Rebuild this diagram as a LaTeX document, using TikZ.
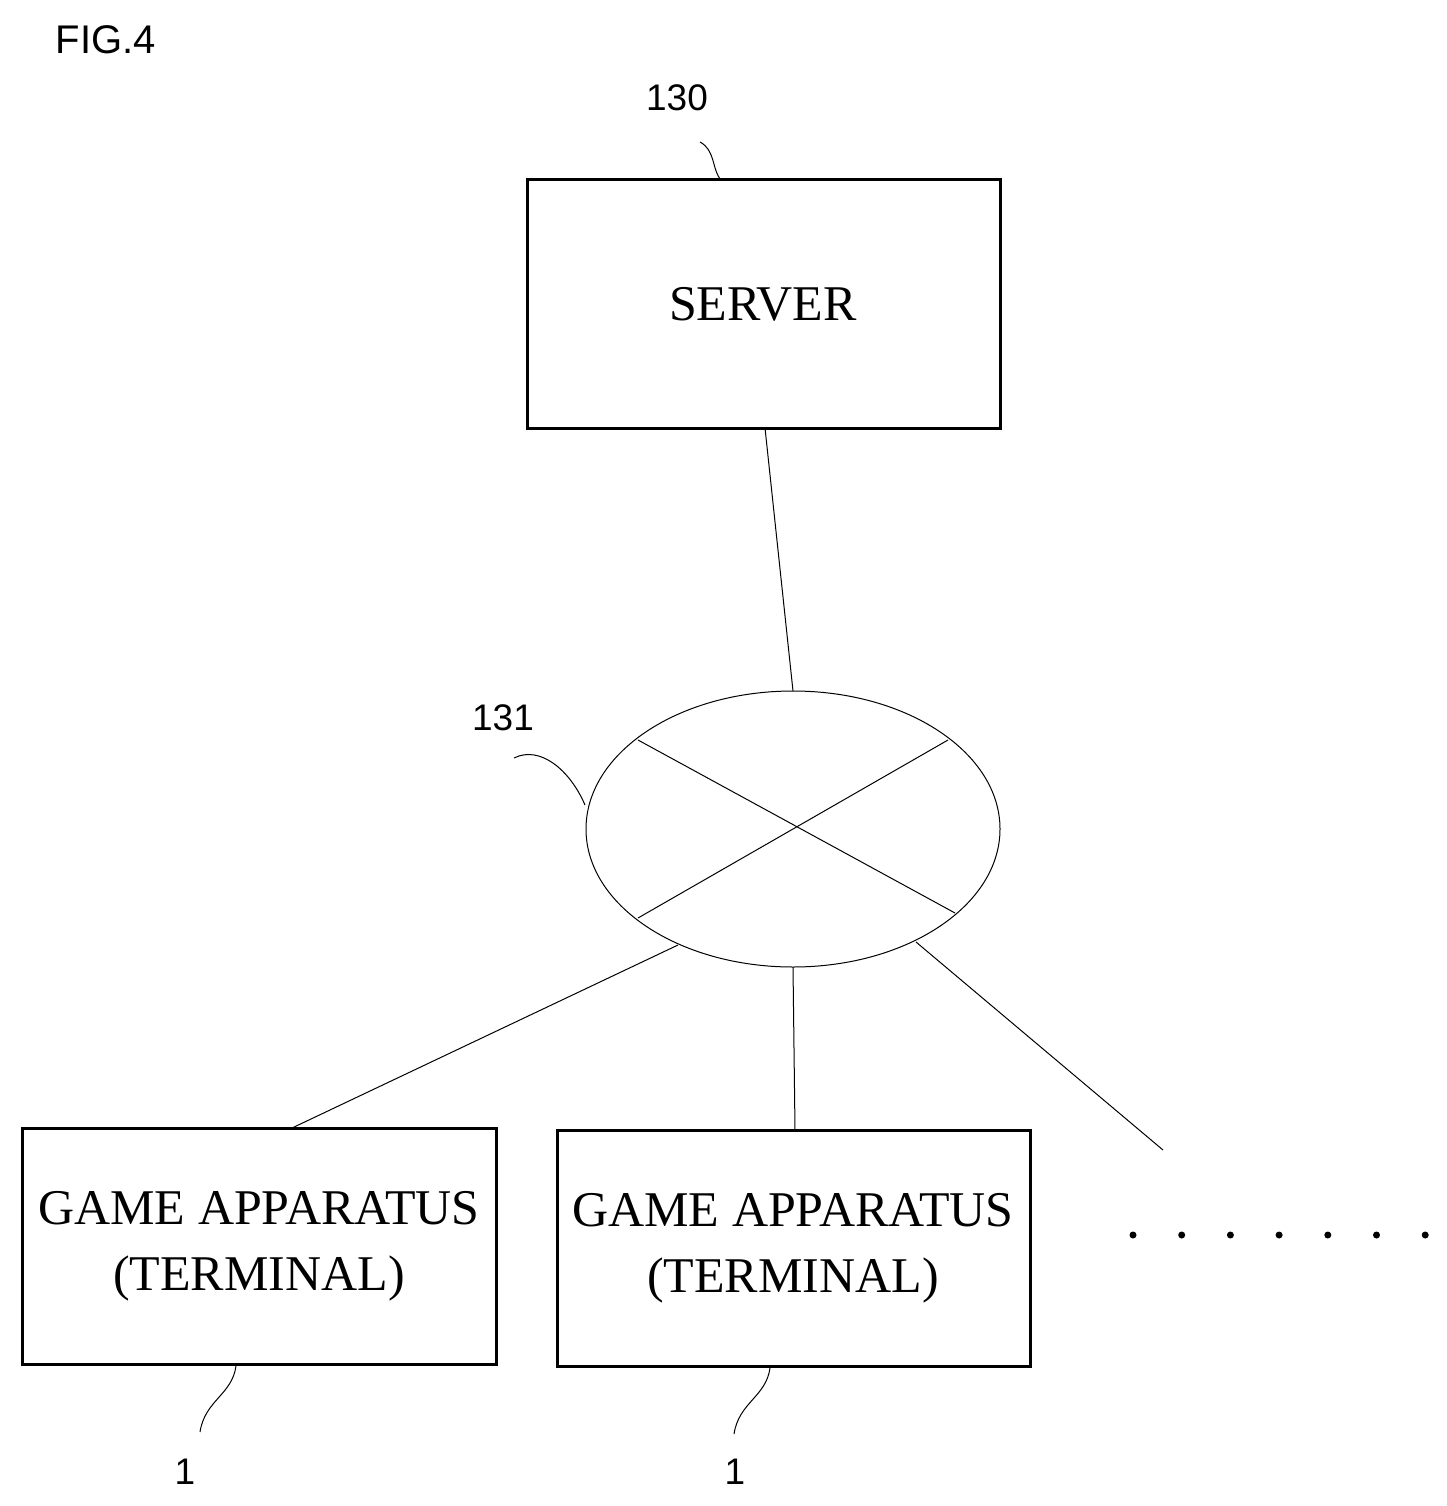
\documentclass[tikz,border=0pt]{standalone}
\usepackage{fontspec}
\setmainfont{Liberation Serif}
\newfontfamily\lsans{Liberation Sans}
\begin{document}
\begin{tikzpicture}[x=1pt,y=-1pt,
  box/.style={draw,line width=3pt},
  thin/.style={line width=1pt},
  lbl/.style={font=\lsans\fontsize{37}{44}\selectfont},
  big/.style={font=\fontsize{50}{66}\selectfont,align=center}]
\useasboundingbox (0,0) rectangle (1447,1506);
\node[font=\lsans\fontsize{40}{48}\selectfont] (fig) at (106,40) {FIG.4};
\draw[box] (527,180) rectangle (1000,428);
\coordinate (srvB) at (765,428);
\node[big] (srv) at (763,304) {SERVER};
\node[lbl] (l130) at (677,98) {130};
\draw[thin] (700,142) .. controls (715,150) and (712,168) .. (720,179);
\draw[thin] (793,829) ellipse [x radius=207,y radius=138];
\coordinate (net) at (793,829);
\coordinate (netT) at (793,691);
\draw[thin] (srvB) -- (netT);
\draw[thin] (638,740) -- (955,913);
\draw[thin] (948,740) -- (638,918);
\node[lbl] (l131) at (503,718) {131};
\draw[thin] (514,758) .. controls (540,745) and (570,770) .. (585,805);
\draw[box] (22,1128) rectangle (496,1364);
\draw[box] (557,1130) rectangle (1030,1366);
\node[big] (t1) at (259,1246) {GAME APPARATUS\\(TERMINAL)};
\node[big] (t2) at (793,1248) {GAME APPARATUS\\(TERMINAL)};
\draw[thin] (678,945) -- (292,1128);
\draw[thin] (793,967) -- (795,1130);
\coordinate (free) at (1163,1150);
\draw[thin] (916,942) -- (free);
\foreach \i in {0,...,6} \fill (1133+\i*48.7,1235) circle (3.5);
\node[lbl] (n1) at (185,1472) {1};
\node[lbl] (n2) at (735,1472) {1};
\draw[thin] (236,1366) .. controls (232,1395) and (205,1400) .. (200,1432);
\draw[thin] (770,1368) .. controls (766,1397) and (739,1402) .. (734,1434);
\end{tikzpicture}
\end{document}
